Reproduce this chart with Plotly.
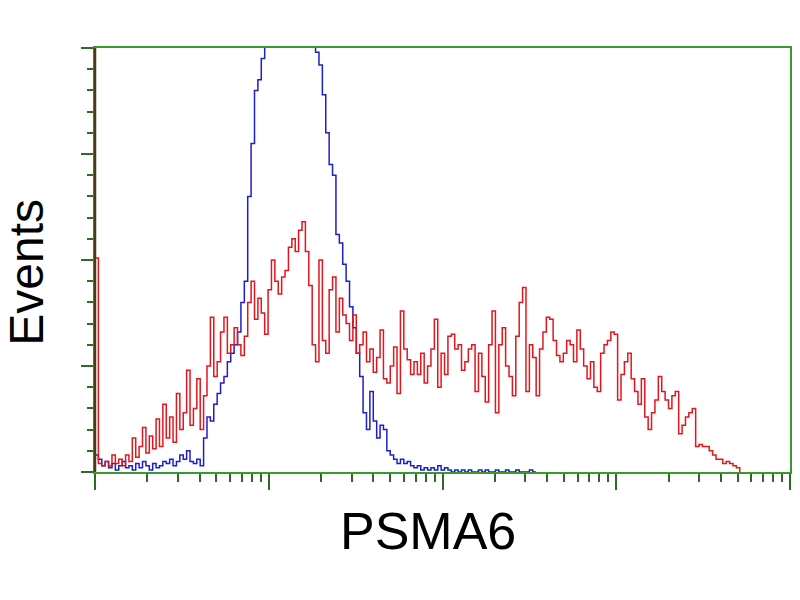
import plotly.graph_objects as go

# Histogram bins: channel index on a 1024-channel, 4-decade log scale (256 ch/decade)
BIN_STEP = 5  # channels per bin

red_counts = [
    101, 4, 3, 5, 3, 8, 4, 6, 3, 8,
    5, 16, 7, 12, 21, 9, 17, 11, 25, 12,
    32, 16, 26, 14, 37, 20, 28, 48, 22, 30,
    44, 20, 36, 50, 73, 45, 52, 66, 73, 56,
    60, 68, 60, 55, 64, 80, 90, 72, 82, 75,
    65, 86, 100, 90, 84, 92, 95, 106, 110, 104,
    114, 118, 104, 88, 60, 52, 100, 62, 56, 86,
    92, 66, 82, 74, 70, 62, 74, 56, 60, 66,
    52, 58, 47, 54, 67, 44, 42, 50, 59, 37,
    76, 58, 53, 46, 52, 46, 56, 42, 50, 58,
    72, 40, 56, 46, 64, 65, 58, 60, 48, 52,
    58, 60, 38, 56, 45, 33, 60, 76, 28, 60,
    68, 50, 45, 36, 64, 80, 87, 38, 60, 54,
    36, 58, 66, 73, 72, 62, 55, 52, 56, 62,
    60, 52, 67, 58, 50, 44, 52, 40, 38, 56,
    60, 62, 66, 65, 34, 46, 52, 56, 44, 38,
    32, 44, 26, 20, 28, 34, 45, 38, 34, 30,
    36, 38, 18, 22, 26, 28, 30, 12, 13, 12,
    12, 10, 8, 6, 6, 4, 5, 4, 3, 2,
    0,
]

blue_counts = [
    8, 6, 3, 5, 2, 4, 1, 3, 5, 2,
    3, 1, 4, 2, 5, 3, 1, 4, 2, 3,
    5, 4, 6, 3, 5, 8, 6, 10, 5, 4,
    6, 3, 16, 26, 24, 32, 37, 42, 45, 52,
    56, 60, 66, 80, 90, 130, 155, 180, 185, 195,
    215, 240, 260, 280, 295, 300, 300, 290, 275, 255,
    250, 240, 230, 220, 210, 198, 192, 178, 160, 145,
    140, 112, 108, 98, 90, 78, 68, 56, 45, 28,
    20, 38, 24, 16, 22, 20, 10, 8, 6, 4,
    6, 4, 5, 3, 2, 3, 1, 2, 1, 2,
    1, 3, 1, 2, 1, 0, 1, 0, 1, 0,
    1, 0, 0, 1, 0, 1, 0, 0, 1, 0,
    0, 1, 0, 0, 1, 0, 0, 0, 1, 0,
    0,
]

x_decades = [1, 10, 100, 1000, 10000]
y_major = [0, 50, 100, 150, 200]
x_title = "PSMA6"
y_title = "Events"


def ch_to_x(n):
    return [10 ** (i * BIN_STEP / 256.0) for i in range(n)]


red_x = ch_to_x(len(red_counts))
blue_x = ch_to_x(len(blue_counts))

minor_x = [m * d for d in x_decades[:-1] for m in range(2, 10)]

GREEN = "#3a9a30"
TICK = "#2e6b22"

fig = go.Figure()
fig.add_trace(go.Scatter(x=blue_x, y=blue_counts, mode="lines",
                         line=dict(color="#1e1ecc", width=1.5, shape="hv"), showlegend=False))
fig.add_trace(go.Scatter(x=red_x, y=red_counts, mode="lines",
                         line=dict(color="#e3161e", width=1.5, shape="hv"), showlegend=False))

fig.update_layout(
    width=800, height=600,
    margin=dict(l=95, r=10, t=48, b=128),
    paper_bgcolor="white", plot_bgcolor="white",
    font=dict(family="Liberation Sans, Arial, sans-serif", color="black"),
    xaxis=dict(
        type="log", range=[0, 4], automargin=False,
        showgrid=False, zeroline=False,
        showline=True, linecolor=GREEN, linewidth=2, mirror=True,
        ticks="outside", tickvals=x_decades, ticklen=16, tickwidth=2, tickcolor=TICK,
        showticklabels=False,
        minor=dict(tickvals=minor_x, ticks="outside", ticklen=8, tickwidth=1.5, tickcolor=TICK),
    ),
    yaxis=dict(
        range=[0, 200], automargin=False,
        showgrid=False, zeroline=False,
        showline=True, linecolor=GREEN, linewidth=2, mirror=True,
        ticks="outside", tickvals=y_major, ticklen=12, tickwidth=2, tickcolor=TICK,
        showticklabels=False,
        minor=dict(dtick=10, ticks="outside", ticklen=6, tickwidth=1.5, tickcolor=TICK),
    ),
    shapes=[dict(type="line", xref="paper", yref="paper", x0=0, x1=0, y0=0, y1=1,
                 line=dict(color="#4a3c14", width=2.5))],
    annotations=[
        dict(text=x_title, xref="paper", yref="paper", x=0.479, y=-0.14,
             xanchor="center", yanchor="middle", showarrow=False,
             font=dict(size=52, color="black")),
        dict(text=y_title, xref="paper", yref="paper", x=-0.098, y=0.472,
             xanchor="center", yanchor="middle", showarrow=False, textangle=-90,
             font=dict(size=48, color="black")),
    ],
)

fig.write_html(
    "out.html",
    config={"displayModeBar": False},
    post_script="document.body.style.margin='0';document.body.style.overflow='hidden';",
)
